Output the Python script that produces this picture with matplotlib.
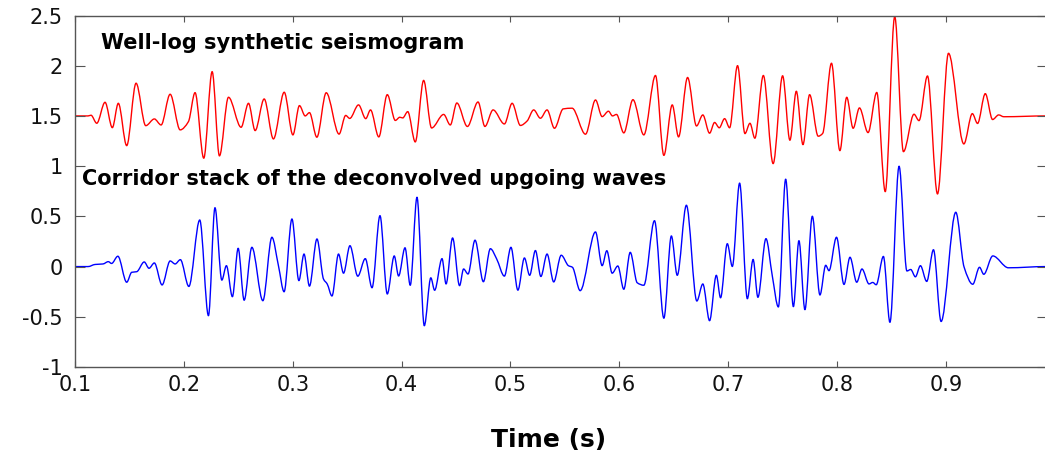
import numpy as np
import matplotlib
matplotlib.use("Agg")
import matplotlib.pyplot as plt
from matplotlib.path import Path
from matplotlib.patches import PathPatch

# ---- data (extrema of each trace) ----
red_t = [0.100, 0.112, 0.1147, 0.1200, 0.1276, 0.1343, 0.1398, 0.1475, 0.1561, 0.1650,
         0.1729, 0.1791, 0.1874, 0.1966, 0.2042, 0.2103, 0.2183, 0.2260, 0.2327, 0.2410,
         0.2526, 0.2594, 0.2655, 0.2738, 0.2823, 0.2922, 0.3002, 0.3062, 0.3115, 0.3154,
         0.3222, 0.3308, 0.3426, 0.3487, 0.3524, 0.3605, 0.3671, 0.3715, 0.3791, 0.3869,
         0.3943, 0.3984, 0.4011, 0.4057, 0.4126, 0.4203, 0.4276, 0.4387, 0.4448, 0.4508,
         0.4605, 0.4703, 0.4766, 0.4841, 0.4945, 0.5016, 0.5092, 0.5154, 0.5214, 0.5276,
         0.5337, 0.5405, 0.5485, 0.5567, 0.5690, 0.5782, 0.5843, 0.5901, 0.5938, 0.5975,
         0.6042, 0.6126, 0.6226, 0.6333, 0.6410, 0.6487, 0.6545, 0.6628, 0.6710, 0.6768,
         0.6830, 0.6876, 0.6919, 0.6968, 0.7014, 0.7087, 0.7155, 0.7201, 0.7246, 0.7324,
         0.7414, 0.7501, 0.7568, 0.7627, 0.7688, 0.7749, 0.7828, 0.7869, 0.7950, 0.8027,
         0.8090, 0.8149, 0.8207, 0.8286, 0.8366, 0.8444, 0.8531, 0.8611, 0.8708, 0.8754,
         0.8832, 0.8924, 0.9025, 0.9166, 0.9244, 0.9292, 0.9363, 0.9430, 0.9486, 0.9533,
         0.9920]
red_v = [1.500, 1.500, 1.507, 1.427, 1.636, 1.383, 1.626, 1.204, 1.826, 1.403,
         1.470, 1.410, 1.716, 1.361, 1.443, 1.732, 1.079, 1.941, 1.102, 1.686,
         1.387, 1.626, 1.354, 1.669, 1.271, 1.736, 1.311, 1.603, 1.500, 1.533,
         1.288, 1.731, 1.319, 1.505, 1.475, 1.610, 1.473, 1.560, 1.291, 1.712,
         1.455, 1.487, 1.480, 1.543, 1.241, 1.854, 1.380, 1.515, 1.410, 1.629,
         1.395, 1.639, 1.395, 1.560, 1.420, 1.626, 1.405, 1.450, 1.560, 1.477,
         1.560, 1.377, 1.570, 1.577, 1.318, 1.659, 1.493, 1.547, 1.500, 1.515,
         1.331, 1.662, 1.311, 1.903, 1.107, 1.610, 1.291, 1.883, 1.400, 1.510,
         1.328, 1.435, 1.382, 1.473, 1.382, 2.001, 1.324, 1.427, 1.278, 1.903,
         1.025, 1.900, 1.258, 1.746, 1.214, 1.712, 1.298, 1.326, 2.025, 1.154,
         1.686, 1.377, 1.580, 1.334, 1.734, 0.746, 2.490, 1.144, 1.517, 1.453,
         1.898, 0.723, 2.124, 1.221, 1.523, 1.425, 1.722, 1.464, 1.510, 1.492,
         1.500]

blue_t = [0.1000, 0.1120, 0.1184, 0.1257, 0.1306, 0.1336, 0.1394, 0.1475, 0.1521, 0.1567,
          0.1636, 0.1680, 0.1729, 0.1800, 0.1874, 0.1920, 0.1968, 0.2046, 0.2146, 0.2226,
          0.2286, 0.2349, 0.2391, 0.2446, 0.2499, 0.2554, 0.2625, 0.2726, 0.2809, 0.2869,
          0.2921, 0.2993, 0.3057, 0.3104, 0.3154, 0.3223, 0.3283, 0.3317, 0.3361, 0.3421,
          0.3467, 0.3526, 0.3598, 0.3667, 0.3729, 0.3802, 0.3869, 0.3933, 0.3973, 0.4032,
          0.4080, 0.4142, 0.4209, 0.4269, 0.4304, 0.4372, 0.4409, 0.4469, 0.4533, 0.4570,
          0.4611, 0.4675, 0.4752, 0.4816, 0.4874, 0.4945, 0.5005, 0.5069, 0.5129, 0.5177,
          0.5230, 0.5280, 0.5337, 0.5398, 0.5467, 0.5533, 0.5570, 0.5641, 0.5782, 0.5843,
          0.5886, 0.5935, 0.5987, 0.6042, 0.6101, 0.6165, 0.6226, 0.6324, 0.6410, 0.6479,
          0.6533, 0.6617, 0.6713, 0.6768, 0.6830, 0.6892, 0.6931, 0.6993, 0.7039, 0.7106,
          0.7177, 0.7230, 0.7274, 0.7348, 0.7406, 0.7462, 0.7529, 0.7600, 0.7651, 0.7706,
          0.7774, 0.7844, 0.7897, 0.7927, 0.7996, 0.8065, 0.8120, 0.8182, 0.8230, 0.8295,
          0.8329, 0.8361, 0.8427, 0.8487, 0.8571, 0.8643, 0.8678, 0.8721, 0.8767, 0.8825,
          0.8887, 0.8957, 0.9092, 0.9168, 0.9248, 0.9310, 0.9349, 0.9432, 0.9575, 0.9920]
blue_v = [0.000, 0.000, 0.021, 0.026, 0.049, 0.031, 0.103, -0.156, -0.057, -0.051,
          0.046, -0.017, 0.036, -0.183, 0.056, 0.026, 0.069, -0.198, 0.464, -0.489,
          0.586, -0.135, 0.009, -0.300, 0.182, -0.335, 0.192, -0.340, 0.292, 0.009,
          -0.251, 0.474, -0.140, 0.125, -0.195, 0.275, -0.124, -0.173, -0.293, 0.125,
          -0.066, 0.208, -0.096, 0.079, -0.211, 0.507, -0.273, 0.106, -0.094, 0.187,
          -0.186, 0.690, -0.589, -0.112, -0.236, 0.079, -0.173, 0.285, -0.190, -0.024,
          -0.074, 0.263, -0.151, 0.178, 0.076, -0.095, 0.192, -0.235, 0.086, -0.087,
          0.160, -0.099, 0.125, -0.153, 0.113, 0.009, -0.007, -0.240, 0.345, 0.009,
          0.158, -0.066, 0.006, -0.226, 0.142, -0.161, -0.186, 0.457, -0.514, 0.305,
          -0.087, 0.611, -0.343, -0.173, -0.539, -0.087, -0.311, 0.228, 0.001, 0.831,
          -0.320, 0.071, -0.306, 0.278, -0.091, -0.402, 0.870, -0.399, 0.258, -0.429,
          0.501, -0.283, 0.013, -0.041, 0.292, -0.178, 0.093, -0.156, -0.024, -0.173,
          -0.158, -0.181, 0.101, -0.555, 0.999, -0.044, -0.029, -0.102, 0.009, -0.148,
          0.168, -0.547, 0.541, -0.004, -0.176, -0.007, -0.077, 0.106, -0.012, 0.000]

x_ticks = [0.1, 0.2, 0.3, 0.4, 0.5, 0.6, 0.7, 0.8, 0.9]
x_tick_labels = ["0.1", "0.2", "0.3", "0.4", "0.5", "0.6", "0.7", "0.8", "0.9"]
y_ticks = [-1, -0.5, 0, 0.5, 1, 1.5, 2, 2.5]
y_tick_labels = ["-1", "-0.5", "0", "0.5", "1", "1.5", "2", "2.5"]
label_red = "Well-log synthetic seismogram"
label_blue = "Corridor stack of the deconvolved upgoing waves"
x_label = "Time (s)"


def smooth_path(t, v):
    """Smooth curve through the read extrema using cubic Bezier segments
    (monotone tangents: flat at peaks/troughs)."""
    t = np.asarray(t, float)
    v = np.asarray(v, float)
    n = len(t)
    d = np.diff(v) / np.diff(t)
    m = np.zeros(n)
    for i in range(1, n - 1):
        if d[i - 1] * d[i] > 0:
            m[i] = 2.0 / (1.0 / d[i - 1] + 1.0 / d[i])
    verts = [(t[0], v[0])]
    codes = [Path.MOVETO]
    for i in range(n - 1):
        h = t[i + 1] - t[i]
        verts += [(t[i] + h / 3, v[i] + m[i] * h / 3),
                  (t[i + 1] - h / 3, v[i + 1] - m[i + 1] * h / 3),
                  (t[i + 1], v[i + 1])]
        codes += [Path.CURVE4] * 3
    return Path(verts, codes)


plt.rcParams['font.family'] = ['DejaVu Sans']

fig = plt.figure(figsize=(10.45, 4.54), dpi=100)
ax_bottom = 87 / 454
ax_height = 351.5 / 454
ax = fig.add_axes([75 / 1045, ax_bottom, 972 / 1045, ax_height])

ax.add_patch(PathPatch(smooth_path(red_t, red_v), facecolor='none',
                       edgecolor='#ff0000', lw=1.0, capstyle='round', joinstyle='round'))
ax.add_patch(PathPatch(smooth_path(blue_t, blue_v), facecolor='none',
                       edgecolor='#0000ff', lw=1.0, capstyle='round', joinstyle='round'))

ax.set_xlim(0.1, 0.993)
ax.set_ylim(-1, 2.5)
ax.set_xticks(x_ticks)
ax.set_xticklabels(x_tick_labels)
ax.set_yticks(y_ticks)
ax.set_yticklabels(y_tick_labels)

for s in ax.spines.values():
    s.set_color('#555555')
    s.set_linewidth(1.0)
ax.tick_params(axis='x', direction='in', length=4.5, width=0.8, color='#555555',
               top=True, labelsize=15, pad=6, labelcolor='#111111')
ax.tick_params(axis='y', direction='in', length=7, width=0.8, color='#555555',
               right=True, labelsize=15, pad=9, labelcolor='#111111')

ax.text(0.124, 2.23, label_red, fontsize=15, fontweight='bold', va='center', ha='left')
ax.text(0.1065, 0.87, label_blue, fontsize=15, fontweight='bold', va='center', ha='left')

ax.set_xlabel(x_label, fontsize=18, fontweight='bold', va='center')
ax.xaxis.set_label_coords((549 - 75) / 972, -(440 - 367) / 351.5)

fig.savefig("out.png", dpi=100)
